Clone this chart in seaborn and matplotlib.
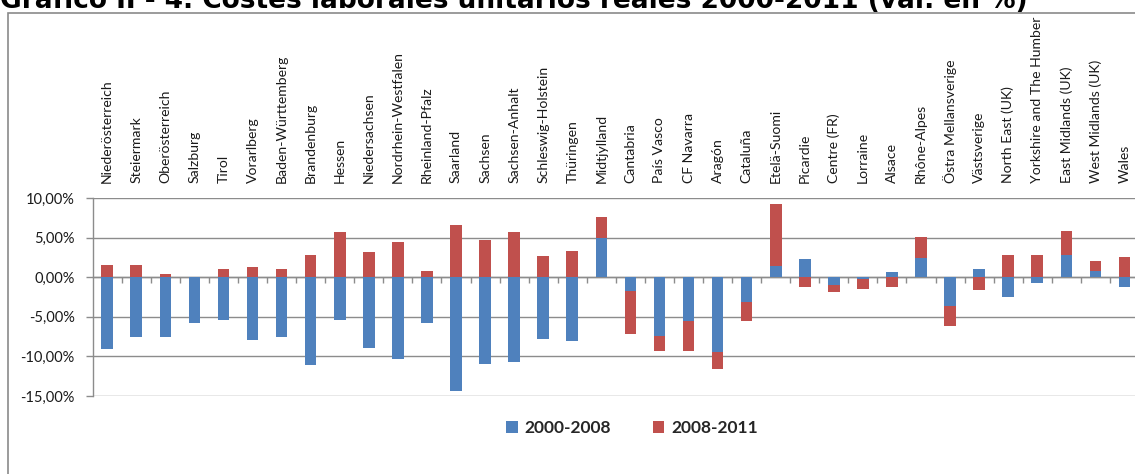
import numpy as np
import pandas as pd
import matplotlib
matplotlib.use("Agg")
import matplotlib.pyplot as plt
from matplotlib.patches import Rectangle
from matplotlib.ticker import FuncFormatter
import seaborn as sns

# Regions and unit labour cost changes (% variation)
regions = [
    "Niederösterreich", "Steiermark", "Oberösterreich", "Salzburg", "Tirol",
    "Vorarlberg", "Baden-Württemberg", "Brandenburg", "Hessen", "Niedersachsen",
    "Nordrhein-Westfalen", "Rheinland-Pfalz", "Saarland", "Sachsen",
    "Sachsen-Anhalt", "Schleswig-Holstein", "Thüringen", "Midtjylland",
    "Cantabria", "País Vasco", "CF Navarra", "Aragón", "Cataluña",
    "Etelä-Suomi", "Picardie", "Centre (FR)", "Lorraine", "Alsace",
    "Rhône-Alpes", "Östra Mellansverige", "Västsverige", "North East (UK)",
    "Yorkshire and The Humber", "East Midlands (UK)", "West Midlands (UK)",
    "Wales",
]
var_2000_2008 = [
    -9.05, -7.5, -7.5, -5.8, -5.4, -7.9, -7.5, -11.1, -5.4, -8.9,
    -10.3, -5.8, -14.4, -11.0, -10.7, -7.8, -8.05, 5.0,
    -1.8, -7.4, -5.5, -9.5, -3.15,
    1.4, 2.3, -0.95, -0.25, 0.65,
    2.45, -3.65, 1.05, -2.55,
    -0.75, 2.85, 0.75, -1.3,
]
var_2008_2011 = [
    1.6, 1.6, 0.45, 0.0, 1.05, 1.3, 1.05, 2.85, 5.7, 3.15,
    4.4, 0.75, 6.55, 4.7, 5.7, 2.7, 3.3, 2.65,
    -5.4, -1.9, -3.8, -2.05, -2.35,
    7.9, -1.3, -0.95, -1.25, -1.2,
    2.65, -2.45, -1.6, 2.85,
    2.85, 2.95, 1.25, 2.6,
]
series_labels = ["2000-2008", "2008-2011"]
y_ticks = [10, 5, 0, -5, -10, -15]
title = "Gráfico II - 4. Costes laborales unitarios reales 2000-2011 (var. en %)"

BLUE = "#4F81BD"
RED = "#C0504D"
GRID = "#8C8C8C"

df = pd.DataFrame({"region": regions, "a": var_2000_2008, "b": var_2008_2011})
# Excel-style stacking: second segment sits on the first when signs agree
same_sign = np.sign(df["a"]) == np.sign(df["b"])
df["b_base"] = np.where(same_sign, df["a"], 0.0)

sns.set_theme(style="white")
plt.rcParams["font.family"] = ["Lato", "DejaVu Sans"]

W, H = 1135, 474
fig = plt.figure(figsize=(W / 100, H / 100), dpi=100)
ax = fig.add_axes([92.7 / W, 1 - 396 / H, (1139 - 92.7) / W, (396 - 198) / H])

sns.barplot(data=df, x="region", y="a", order=regions, color=BLUE,
            saturation=1, width=0.4, errorbar=None, linewidth=0,
            label=series_labels[0], ax=ax, zorder=3)
sns.barplot(data=df, x="region", y="b", order=regions, color=RED,
            saturation=1, width=0.4, errorbar=None, linewidth=0,
            bottom=df["b_base"].to_numpy(), label=series_labels[1], ax=ax,
            zorder=3)
if ax.get_legend() is not None:
    ax.get_legend().remove()

ax.set_xlim(-0.5, len(regions) - 0.5)
ax.set_ylim(-15, 10)
ax.set_yticks(y_ticks)
ax.yaxis.set_major_formatter(FuncFormatter(lambda v, _: f"{v:.2f}%".replace(".", ",")))
ax.set_xlabel("")
ax.set_ylabel("")

# Gridlines and spines
ax.grid(axis="y", color=GRID, linewidth=1, zorder=0)
ax.grid(axis="x", visible=False)
for s in ["top", "right"]:
    ax.spines[s].set_visible(False)
ax.spines["left"].set_color(GRID)
ax.spines["left"].set_linewidth(1)
ax.spines["bottom"].set_position(("data", 0))
ax.spines["bottom"].set_color(GRID)
ax.spines["bottom"].set_linewidth(1)
ax.spines["bottom"].set_zorder(2)

# Category labels above the plot area, boundary ticks on the zero line
ax.set_xticks(range(len(regions)))
ax.set_xticklabels(regions)
ax.tick_params(axis="x", which="major", bottom=False, top=False,
               labelbottom=False, labeltop=True, labelrotation=90,
               pad=4.5, labelsize=10.1, labelcolor="#1a1a1a")
ax.set_xticks(np.arange(0.5, len(regions) - 1, 1), minor=True)
ax.tick_params(axis="x", which="minor", bottom=True, top=False,
               direction="out", length=4, width=1, color=GRID)
ax.tick_params(axis="y", which="major", left=True, direction="out",
               length=5, width=1, color=GRID, pad=8, labelsize=10.5,
               labelcolor="#1a1a1a")

# Legend
handles = [ax.containers[0], ax.containers[1]]
fig.legend(handles, series_labels, loc="center",
           bbox_to_anchor=(632 / W, 1 - 428 / H), ncol=2, frameon=False,
           handlelength=0.65, handleheight=0.65, handletextpad=0.4,
           columnspacing=2.4, prop={"family": "Lato", "weight": "bold",
                                    "size": 12.5})

# Chart frame and title
fig.patches.append(Rectangle((8 / W, -0.1), 1.2, 1.1 - 13 / H,
                             transform=fig.transFigure, fill=False,
                             edgecolor="#8A8A8A", linewidth=1.2))
fig.text(0.0, 1 - 8 / H, title, ha="left", va="baseline",
         fontsize=19, fontweight="bold", family="DejaVu Sans", color="black")

fig.savefig("out.png", dpi=100, facecolor="white")
